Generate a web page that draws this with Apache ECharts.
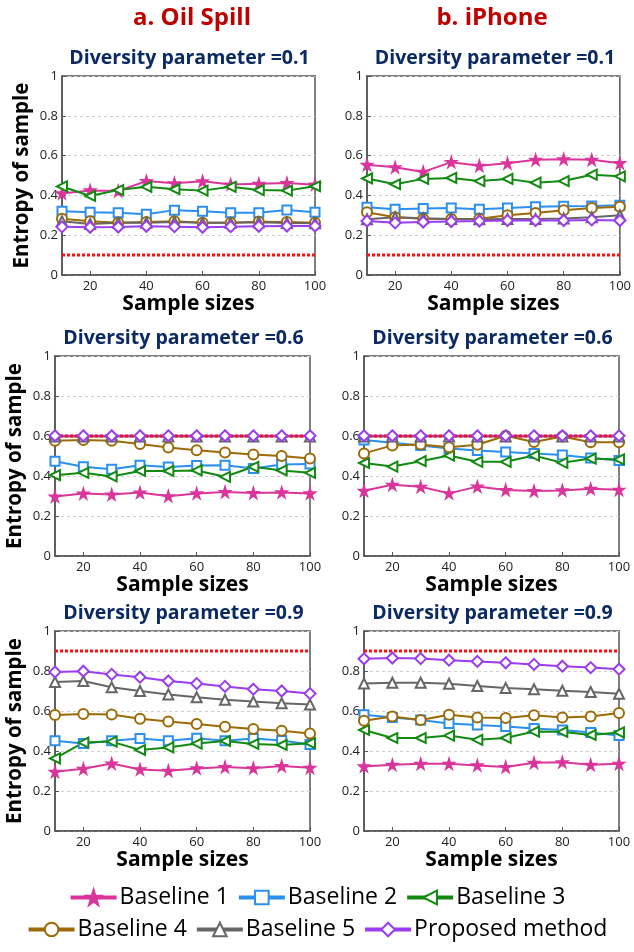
<!DOCTYPE html>
<html>
<head>
<meta charset="utf-8">
<script src="https://cdn.jsdelivr.net/npm/echarts@6/dist/echarts.min.js"></script>
<style>
  html, body { margin: 0; padding: 0; background: #fff; }
  #main { width: 634px; height: 952px; }
</style>
</head>
<body>
<div id="main"></div>
<script>
// 样本量
var sizes = [10, 20, 30, 40, 50, 60, 70, 80, 90, 100];
var methods = ['Baseline 1', 'Baseline 2', 'Baseline 3', 'Baseline 4', 'Baseline 5', 'Proposed method'];
var diversity = [0.1, 0.6, 0.9];
var datasets = ['a. Oil Spill', 'b. iPhone'];

// Oil Spill, 0.1
var oil01_b1 = [0.41, 0.425, 0.422, 0.472, 0.461, 0.471, 0.455, 0.458, 0.462, 0.454];
var oil01_b2 = [0.32, 0.315, 0.313, 0.305, 0.326, 0.32, 0.313, 0.313, 0.327, 0.315];
var oil01_b3 = [0.445, 0.397, 0.427, 0.443, 0.431, 0.424, 0.443, 0.427, 0.424, 0.446];
var oil01_b4 = [0.283, 0.27, 0.262, 0.266, 0.27, 0.263, 0.263, 0.267, 0.266, 0.262];
var oil01_b5 = [0.27, 0.256, 0.262, 0.263, 0.266, 0.262, 0.262, 0.265, 0.261, 0.26];
var oil01_p  = [0.242, 0.24, 0.241, 0.245, 0.243, 0.24, 0.243, 0.245, 0.246, 0.246];
// iPhone, 0.1
var iph01_b1 = [0.554, 0.541, 0.518, 0.567, 0.549, 0.561, 0.579, 0.582, 0.579, 0.562];
var iph01_b2 = [0.34, 0.33, 0.334, 0.337, 0.33, 0.337, 0.343, 0.345, 0.347, 0.35];
var iph01_b3 = [0.485, 0.456, 0.483, 0.488, 0.472, 0.483, 0.464, 0.472, 0.504, 0.496];
var iph01_b4 = [0.315, 0.29, 0.283, 0.281, 0.283, 0.3, 0.311, 0.325, 0.337, 0.343];
var iph01_b5 = [0.28, 0.29, 0.285, 0.281, 0.28, 0.281, 0.281, 0.284, 0.29, 0.3];
var iph01_p  = [0.271, 0.262, 0.266, 0.269, 0.271, 0.274, 0.274, 0.274, 0.277, 0.274];
// Oil Spill, 0.6
var oil06_b1 = [0.297, 0.312, 0.307, 0.317, 0.299, 0.313, 0.32, 0.315, 0.318, 0.313];
var oil06_b2 = [0.474, 0.446, 0.434, 0.454, 0.445, 0.453, 0.454, 0.437, 0.457, 0.46];
var oil06_b3 = [0.404, 0.416, 0.398, 0.425, 0.425, 0.428, 0.396, 0.446, 0.428, 0.416];
var oil06_b4 = [0.576, 0.58, 0.576, 0.56, 0.543, 0.529, 0.518, 0.508, 0.5, 0.487];
var oil06_b5 = [0.598, 0.598, 0.598, 0.598, 0.598, 0.598, 0.598, 0.598, 0.598, 0.598];
var oil06_p  = [0.601, 0.601, 0.601, 0.601, 0.601, 0.601, 0.601, 0.601, 0.601, 0.601];
// iPhone, 0.6
var iph06_b1 = [0.326, 0.356, 0.346, 0.313, 0.347, 0.33, 0.325, 0.328, 0.336, 0.331];
var iph06_b2 = [0.58, 0.566, 0.553, 0.537, 0.527, 0.52, 0.512, 0.505, 0.49, 0.477];
var iph06_b3 = [0.465, 0.447, 0.474, 0.502, 0.471, 0.471, 0.502, 0.466, 0.487, 0.483];
var iph06_b4 = [0.513, 0.553, 0.557, 0.544, 0.556, 0.601, 0.57, 0.598, 0.569, 0.569];
var iph06_b5 = [0.598, 0.598, 0.598, 0.598, 0.598, 0.598, 0.598, 0.598, 0.598, 0.598];
var iph06_p  = [0.601, 0.601, 0.601, 0.601, 0.601, 0.601, 0.601, 0.601, 0.601, 0.601];
// Oil Spill, 0.9
var oil09_b1 = [0.296, 0.311, 0.337, 0.308, 0.301, 0.313, 0.32, 0.314, 0.325, 0.316];
var oil09_b2 = [0.451, 0.438, 0.451, 0.462, 0.451, 0.464, 0.451, 0.462, 0.452, 0.433];
var oil09_b3 = [0.363, 0.442, 0.447, 0.405, 0.418, 0.437, 0.45, 0.435, 0.43, 0.439];
var oil09_b4 = [0.58, 0.585, 0.582, 0.561, 0.547, 0.535, 0.521, 0.51, 0.501, 0.488];
var oil09_b5 = [0.745, 0.75, 0.719, 0.7, 0.683, 0.669, 0.656, 0.647, 0.639, 0.632];
var oil09_p  = [0.795, 0.799, 0.783, 0.769, 0.75, 0.737, 0.723, 0.709, 0.7, 0.687];
// iPhone, 0.9
var iph09_b1 = [0.323, 0.331, 0.336, 0.336, 0.328, 0.32, 0.341, 0.344, 0.331, 0.336];
var iph09_b2 = [0.581, 0.568, 0.555, 0.538, 0.53, 0.522, 0.513, 0.505, 0.493, 0.477];
var iph09_b3 = [0.505, 0.465, 0.465, 0.477, 0.456, 0.465, 0.497, 0.496, 0.48, 0.493];
var iph09_b4 = [0.551, 0.573, 0.555, 0.581, 0.568, 0.565, 0.579, 0.568, 0.573, 0.59];
var iph09_b5 = [0.737, 0.741, 0.741, 0.736, 0.725, 0.715, 0.709, 0.701, 0.695, 0.686];
var iph09_p  = [0.861, 0.865, 0.862, 0.854, 0.848, 0.841, 0.833, 0.824, 0.817, 0.809];

window.onload = function(){
    var myChart = echarts.init(document.getElementById('main'));
    var FONT = 'Open Sans';
    var star = 'path://M50,0 L61,35 L98,35 L68,57 L79,91 L50,70 L21,91 L32,57 L2,35 L39,35 Z';

    // 每个方法的样式
    var styles = [
        {color: '#d9359b', symbol: star, size: 10, rotate: 0},
        {color: '#2b8ff0', symbol: 'emptyRect', size: 9, rotate: 0},
        {color: '#128a12', symbol: 'emptyTriangle', size: 10, rotate: 90},
        {color: '#9c6a06', symbol: 'emptyCircle', size: 10, rotate: 0},
        {color: '#666666', symbol: 'emptyTriangle', size: 10, rotate: 0},
        {color: '#9a3cf0', symbol: 'emptyDiamond', size: 11, rotate: 0}
    ];

    // 面板：行=多样性参数，列=数据集
    var panels = [
        {row: 0, col: 0, vals: [oil01_b1, oil01_b2, oil01_b3, oil01_b4, oil01_b5, oil01_p]},
        {row: 0, col: 1, vals: [iph01_b1, iph01_b2, iph01_b3, iph01_b4, iph01_b5, iph01_p]},
        {row: 1, col: 0, vals: [oil06_b1, oil06_b2, oil06_b3, oil06_b4, oil06_b5, oil06_p]},
        {row: 1, col: 1, vals: [iph06_b1, iph06_b2, iph06_b3, iph06_b4, iph06_b5, iph06_p]},
        {row: 2, col: 0, vals: [oil09_b1, oil09_b2, oil09_b3, oil09_b4, oil09_b5, oil09_p]},
        {row: 2, col: 1, vals: [iph09_b1, iph09_b2, iph09_b3, iph09_b4, iph09_b5, iph09_p]}
    ];
    var gridBox = [
        [{left: 62, top: 76, width: 253, height: 199}, {left: 367, top: 76, width: 254, height: 199}],
        [{left: 55, top: 356, width: 255, height: 200}, {left: 364, top: 356, width: 255, height: 200}],
        [{left: 55, top: 631, width: 255, height: 200}, {left: 364, top: 631, width: 255, height: 200}]
    ];

    var grids = [], xAxes = [], yAxes = [], series = [];
    var titles = [
        {text: datasets[0], left: 187, top: 1, textAlign: 'center',
         textStyle: {color: '#c00000', fontSize: 24, fontWeight: 'bold', fontFamily: FONT}},
        {text: datasets[1], left: 487, top: 1, textAlign: 'center',
         textStyle: {color: '#c00000', fontSize: 24, fontWeight: 'bold', fontFamily: FONT}}
    ];

    panels.forEach(function(p, i){
        var b = gridBox[p.row][p.col];
        grids.push({left: b.left, top: b.top, width: b.width, height: b.height,
            show: true, borderColor: '#555', borderWidth: 1.5, backgroundColor: '#fff'});
        titles.push({
            text: 'Diversity parameter =' + diversity[p.row],
            left: b.left + b.width / 2 - 4, top: b.top - 33, textAlign: 'center',
            textStyle: {color: '#0b2a63', fontSize: 19.5, fontWeight: 'bold', fontFamily: FONT}
        });
        xAxes.push({
            type: 'value', gridIndex: i, min: 10, max: 100,
            name: 'Sample sizes', nameLocation: 'middle', nameGap: p.row === 2 ? 16 : 18,
            nameTextStyle: {color: '#000', fontSize: 21, fontWeight: 'bold', fontFamily: FONT},
            axisLine: {lineStyle: {color: '#555', width: 1.5}},
            axisTick: {inside: true, length: 4, customValues: [20, 40, 60, 80, 100], lineStyle: {color: '#555'}},
            axisLabel: {customValues: [20, 40, 60, 80, 100], color: '#222', fontSize: 13, margin: 5, fontFamily: FONT},
            splitLine: {show: false}
        });
        yAxes.push({
            type: 'value', gridIndex: i, min: 0, max: 1, interval: 0.2,
            name: p.col === 0 ? 'Entropy of sample' : '', nameLocation: 'middle', nameGap: 29,
            nameTextStyle: {color: '#000', fontSize: 20.5, fontWeight: 'bold', fontFamily: FONT},
            axisLine: {show: true, lineStyle: {color: '#555', width: 1.5}},
            axisTick: {show: true, inside: true, length: 4, lineStyle: {color: '#555'}},
            axisLabel: {color: '#222', fontSize: 13, margin: 4, fontFamily: FONT},
            splitLine: {show: true, lineStyle: {color: '#cfcfcf', type: [3, 3], width: 1}}
        });
        p.vals.forEach(function(v, k){
            var s = styles[k];
            series.push({
                name: methods[k], type: 'line', xAxisIndex: i, yAxisIndex: i,
                data: sizes.map(function(x, j){ return [x, v[j]]; }),
                symbol: s.symbol, symbolSize: s.size, symbolRotate: s.rotate,
                showAllSymbol: true, animation: false,
                lineStyle: {color: s.color, width: 2},
                itemStyle: {color: s.color, borderColor: s.color, borderWidth: 1.8}
            });
        });
        // 红色虚线：多样性参数
        series.push({
            type: 'line', xAxisIndex: i, yAxisIndex: i, symbol: 'none', animation: false,
            data: [[sizes[0], diversity[p.row]], [sizes[sizes.length - 1], diversity[p.row]]],
            lineStyle: {color: '#ff1010', width: 3, type: [3, 2]}
        });
    });

    var legendText = {color: '#000', fontSize: 23, fontFamily: FONT, padding: [0, 0, 0, -2]};
    var legendBase = {left: 'center', itemWidth: 46, itemHeight: 17, itemGap: 8,
        selectedMode: false, textStyle: legendText,
        lineStyle: {width: 4}, itemStyle: {borderWidth: 2.5}};
    var option = {
        backgroundColor: '#fff',
        animation: false,
        title: titles,
        grid: grids,
        xAxis: xAxes,
        yAxis: yAxes,
        legend: [
            echarts.util.extend({data: methods.slice(0, 3), top: 881}, legendBase),
            echarts.util.extend({data: methods.slice(3), top: 913}, legendBase)
        ],
        series: series
    };
    myChart.setOption(option);
};
</script>
</body>
</html>
